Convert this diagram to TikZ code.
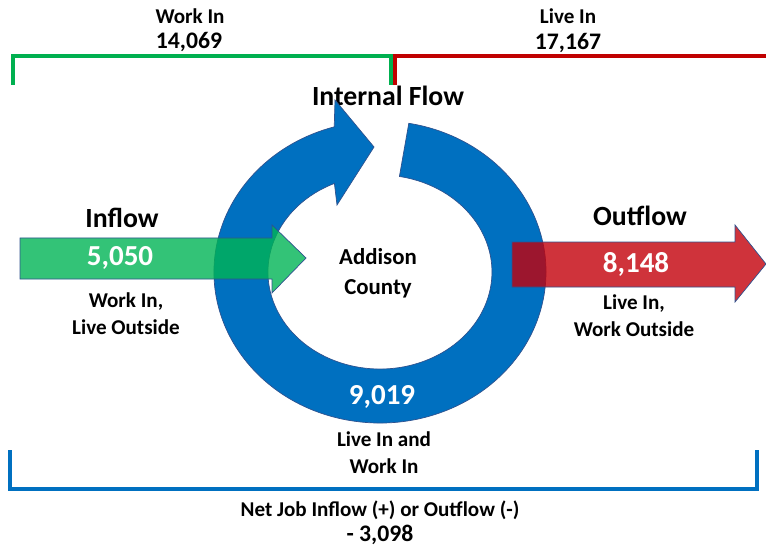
\documentclass[tikz,border=0pt]{standalone}
\usepackage{fontspec}
\setmainfont{Carlito}
\usepackage{tikz}
\usetikzlibrary{positioning}
\definecolor{ringblue}{RGB}{0,112,192}
\definecolor{ringedge}{RGB}{47,82,143}
\definecolor{workgreen}{RGB}{0,176,80}
\definecolor{livered}{RGB}{192,0,0}
\definecolor{netblue}{RGB}{0,112,192}
\definecolor{inflowgreen}{RGB}{0,180,85}
\definecolor{outflowred}{RGB}{195,0,10}

\begin{document}
\begin{tikzpicture}[x=0.02cm, y=0.02cm]
\tikzstyle{every node}+=[inner sep=0pt, align=center, font=\bfseries\fontsize{12}{15.3}\selectfont]
\tikzstyle{headtext}=[font=\bfseries\fontsize{15.8}{19}\selectfont]
\tikzstyle{flownum}=[font=\bfseries\fontsize{16.5}{19}\selectfont, white]
\tikzstyle{totalnum}=[font=\bfseries\fontsize{13.5}{16}\selectfont]
\tikzstyle{bracket}=[line width=2.4pt]
\useasboundingbox (0,0) rectangle (766,-550);
% brackets on top
\draw [bracket, workgreen] (13,-85) -- (13,-56) -- (391,-56) -- (391,-85);
\draw [bracket, livered] (395,-85) -- (395,-56) -- (770,-56);
\node (workin) at (190,-16) {Work In};
\node [totalnum] (workintotal) at (189,-42) {14,069};
\node (livein) at (568,-16) {Live In};
\node [totalnum] (liveintotal) at (568,-43) {17,167};
\node [headtext] (internal) at (388,-96) {Internal Flow};
% internal flow ring
\fill [ringblue, draw=ringedge, line width=0.4pt] (408.8,-123.3)
  arc [start angle=80, end angle=-254, x radius=166, y radius=151]
  -- (335,-100) -- (374,-147) -- (337,-205) -- (334.4,-183.4)
  arc [start angle=-246, end angle=80, x radius=112, y radius=97] -- cycle;
% inflow arrow
\fill [inflowgreen, fill opacity=0.8, draw=ringedge, draw opacity=1, line width=0.4pt]
  (20,-238) -- (272,-238) -- (272,-225) -- (306,-258) -- (272,-293) -- (272,-279) -- (20,-279) -- cycle;
% outflow arrow
\fill [outflowred, fill opacity=0.8, draw=ringedge, draw opacity=1, line width=0.4pt]
  (512,-242) -- (735,-242) -- (735,-225) -- (766,-264) -- (735,-302) -- (735,-287) -- (512,-287) -- cycle;
\node [headtext] (inflow) at (122,-218) {Inflow};
\node [flownum] (inflownum) at (120,-258) {5,050};
\node (inflowtext) at (126,-314) {Work In,\\Live Outside};
\node [headtext] (outflow) at (640,-216) {Outflow};
\node [flownum] (outflownum) at (636,-264) {8,148};
\node (outflowtext) at (634,-316) {Live In,\\Work Outside};
\node [font=\bfseries\fontsize{13}{17}\selectfont] (county) at (378,-273) {Addison\\County};
\node [flownum] (internalnum) at (382,-397) {9,019};
\node (internaltext) at (384,-453) {Live In and\\Work In};
% net bracket
\draw [bracket, netblue] (10,-450) -- (10,-489) -- (757,-489) -- (757,-450);
\node (net) at (380,-510) {Net Job Inflow (+) or Outflow (-)};
\node [totalnum] (netnum) at (380,-535) {- 3,098};
\end{tikzpicture}
\end{document}
